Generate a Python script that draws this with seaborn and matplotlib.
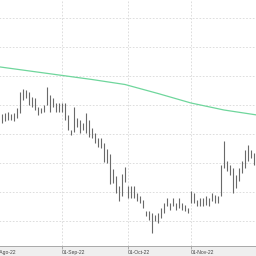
import matplotlib
matplotlib.use("Agg")
import matplotlib.pyplot as plt
import seaborn as sns
import pandas as pd
from matplotlib.ticker import MultipleLocator

# trading-day index of each bar
day_idx = list(range(3, 88))
highs = [281, 282, 283, 281, 282, 287, 303, 306, 305, 303, 298, 297, 288, 287, 290,
         308, 300, 297, 292, 292, 292, 292, 280, 265, 288, 277, 275, 272, 282, 275,
         267, 262, 257, 257, 252, 246, 241, 226, 219, 209, 221, 228, 209, 209, 209,
         202, 199, 195, 184, 184, 182, 180, 182, 187, 192, 197, 192, 197, 192, 197,
         192, 190, 187, 204, 202, 195, 197, 197, 199, 197, 202, 200, 199, 230, 254,
         234, 230, 227, 220, 227, 234, 245, 250, 245, 242]
lows = [272, 274, 275, 275, 274, 277, 282, 295, 297, 290, 288, 285, 280, 282, 283,
        290, 283, 288, 283, 283, 283, 275, 265, 260, 263, 268, 262, 265, 262, 258,
        257, 252, 248, 247, 233, 232, 211, 212, 202, 194, 199, 213, 197, 197, 197,
        194, 192, 187, 179, 175, 162, 174, 172, 177, 182, 189, 185, 189, 185, 187,
        185, 184, 182, 192, 192, 189, 189, 189, 190, 189, 194, 192, 192, 199, 227,
        224, 220, 202, 207, 214, 222, 227, 234, 237, 230]

ma_idx = [0, 11, 22, 33, 44, 55, 66, 77, 88]
ma_vals = [329, 324.5, 320, 315.5, 310.5, 301.5, 292, 285, 280]

tick_pos = [0, 23, 45, 66]
tick_labels = ["01-Ago-22", "01-Sep-22", "01-Oct-22", "01-Nov-22"]

sns.set_style("white")
plt.rcParams['font.family'] = ['Liberation Sans', 'DejaVu Sans']

fig = plt.figure(figsize=(2.56, 2.56), dpi=100, facecolor="#efefef")
ax = fig.add_axes([-20/256, 10/256, 276/256, 246/256])
ax.set_facecolor("white")

ax.vlines(day_idx, lows, highs, color="#6a6a6a", linewidth=0.8, zorder=3)
ma_df = pd.DataFrame({"idx": ma_idx, "ma": ma_vals})
sns.lineplot(data=ma_df, x="idx", y="ma", ax=ax, color="#6fd69c", linewidth=0.9, zorder=4)

ax.set_xlim(-13/3, 263/3)
ax.set_ylim(149, 395)
ax.yaxis.set_major_locator(MultipleLocator(29))
ax.set_xticks(tick_pos)
ax.set_xticklabels(tick_labels)
for lab in ax.get_xticklabels():
    lab.set_ha("left")
ax.tick_params(axis="x", length=2.2, width=0.6, color="#a0a0a0", pad=0.6,
               labelsize=3.6, labelcolor="#444444", bottom=True)
ax.tick_params(axis="y", left=False, labelleft=False)
ax.grid(True, color="#d8d8d8", linestyle=(0, (2, 2)), linewidth=0.6)
for s in ["top", "right", "left"]:
    ax.spines[s].set_visible(False)
ax.spines["bottom"].set_color("#a8a8a8")
ax.spines["bottom"].set_linewidth(0.7)
ax.set_xlabel("")
ax.set_ylabel("")

fig.savefig("out.png", dpi=100, facecolor=fig.get_facecolor())
